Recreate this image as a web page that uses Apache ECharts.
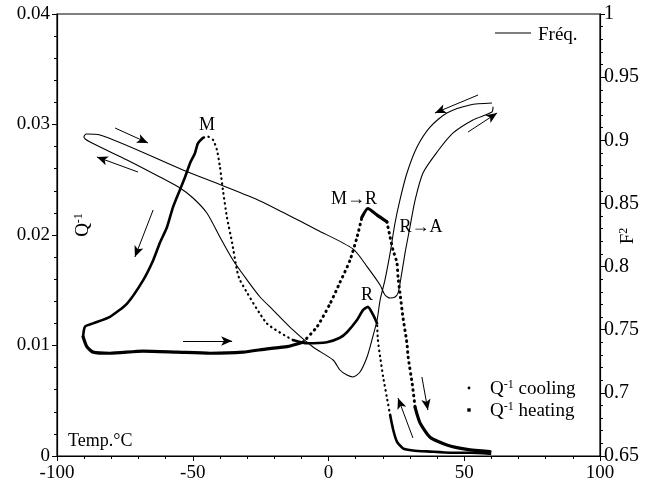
<!DOCTYPE html>
<html><head><meta charset="utf-8">
<script src="https://cdn.jsdelivr.net/npm/echarts@6/dist/echarts.min.js"></script>
<style>html,body{margin:0;padding:0;background:#fff}#c{width:656px;height:491px}</style>
</head><body><div id="c"></div>
<script>
// ---------- DATA ----------
const coolT = [59.5, 52.1, 44.8, 37.4, 31.1, 27.4, 25.2, 23.8, 22.7, 21.5, 20.1, 19.0, 18.2, 17.9, 16.4, 14.5, 12.7, 10.5, 6.8, 4.2, -0.6, -7.9, -13.1, -22.7, -32.6, -33.7, -35.5, -37.4, -38.9, -40.0, -41.1, -42.5, -44.4, -46.2, -48.1, -49.2, -51.0, -52.9, -54.7, -57.3, -59.5, -62.1, -64.6, -68.3, -74.2, -80.5, -86.7, -89.7, -90.4];
const coolQ = [0.0002, 0.0003, 0.0003, 0.0004, 0.0005, 0.0007, 0.0013, 0.0024, 0.0037, 0.0053, 0.0072, 0.0090, 0.0105, 0.0120, 0.0128, 0.0135, 0.0132, 0.0123, 0.0112, 0.0107, 0.0103, 0.0102, 0.0105, 0.0120, 0.0159, 0.0168, 0.0193, 0.0216, 0.0241, 0.0262, 0.0277, 0.0286, 0.0289, 0.0288, 0.0283, 0.0274, 0.0265, 0.0252, 0.0241, 0.0225, 0.0207, 0.0193, 0.0177, 0.0159, 0.0138, 0.0126, 0.0120, 0.0117, 0.0108];

const heatT = [-90.4, -89.0, -86.7, -80.5, -68.3, -55.8, -43.6, -31.5, -22.7, -15.3, -9.4, -4.2, 0.6, 4.2, 7.9, 10.5, 12.3, 14.5, 17.9, 21.5, 22.7, 23.8, 25.2, 25.6, 26.3, 27.4, 28.9, 29.3, 30.8, 31.9, 33.7, 37.4, 43.6, 51.0, 59.5];
const heatQ = [0.0108, 0.0099, 0.0094, 0.0093, 0.0095, 0.0094, 0.0093, 0.0094, 0.0097, 0.0099, 0.0103, 0.0117, 0.0138, 0.0157, 0.0177, 0.0198, 0.0216, 0.0224, 0.0218, 0.0212, 0.0198, 0.0186, 0.0175, 0.0162, 0.0148, 0.0126, 0.0102, 0.0090, 0.0066, 0.0044, 0.0030, 0.0017, 0.0010, 0.0006, 0.0004];

const freqT = [60.2, 52.1, 43.6, 37.4, 32.6, 28.9, 26.3, 24.5, 22.7, 20.8, 19.0, 17.9, 16.0, 14.2, 11.6, 9.0, 6.8, 4.2, 1.7, -5.7, -13.1, -20.4, -25.2, -30.0, -35.2, -40.0, -44.8, -49.9, -54.7, -62.1, -74.2, -87.8, -90.1, -89.3, -84.2, -53.6, -38.9, -25.2, -16.8, -10.5, -4.2, 9.0, 14.2, 19.0, 20.8, 22.7, 24.5, 25.6, 26.3, 28.2, 30.0, 31.9, 34.8, 40.0, 45.9, 53.2, 60.2, 60.6];
const freqF = [0.9295, 0.9280, 0.9216, 0.9105, 0.8947, 0.8741, 0.8527, 0.8345, 0.8108, 0.7894, 0.7735, 0.7577, 0.7419, 0.7284, 0.7165, 0.7126, 0.7141, 0.7181, 0.7260, 0.7363, 0.7498, 0.7656, 0.7759, 0.7894, 0.8052, 0.8234, 0.8424, 0.8543, 0.8622, 0.8709, 0.8844, 0.8986, 0.9026, 0.9050, 0.9042, 0.8765, 0.8640, 0.8520, 0.8430, 0.8360, 0.8290, 0.8140, 0.8000, 0.7854, 0.7775, 0.7751, 0.7759, 0.7790, 0.7860, 0.8108, 0.8313, 0.8527, 0.8741, 0.8907, 0.9058, 0.9161, 0.9224, 0.9265];

const xTicks = [-100, -50, 0, 50, 100];
const qTicks = [0, 0.01, 0.02, 0.03, 0.04];
const fTicks = [0.65, 0.7, 0.75, 0.8, 0.85, 0.9, 0.95, 1];

// arrows: [T1, Q1, T2, Q2] (head at second point)
const arrows = [
  [-78.6, 0.02968, -66.5, 0.02833],
  [-70.2, 0.0257, -85.3, 0.02706],
  [-64.6, 0.02226, -71.3, 0.01801],
  [-53.6, 0.01041, -35.5, 0.01041],
  [55.1, 0.03267, 39.2, 0.03104],
  [51.4, 0.02932, 62.1, 0.03104],
  [31.1, 0.00163, 25.6, 0.00525],
  [34.4, 0.00715, 36.6, 0.00416]
];

// ---------- STYLE CONFIG ----------
const FONT = '"Liberation Serif", "Times New Roman", serif';
const coolSegs = [[0, 8, 'solid'], [8, 13, 'dot'], [13, 22, 'solid'], [22, 33, 'dot'], [33, 48, 'solid']];
const heatSegs = [[0, 10, 'solid'], [10, 16, 'dot'], [16, 19, 'solid'], [19, 29, 'dot'], [29, 34, 'solid']];

function pairs(a, b) { return a.map((v, i) => [v, b[i]]); }
const coolData = pairs(coolT, coolQ);
const heatData = pairs(heatT, heatQ);
const freqData = pairs(freqT, freqF);

function segSeries(name, data, segs, solidW, dotW, dotDash) {
  return segs.map(([s, e, kind]) => ({
    name: name,
    type: 'line',
    xAxisIndex: 0, yAxisIndex: 0,
    data: data.slice(s, e + 1),
    showSymbol: false, symbol: 'none',
    smooth: 0.2,
    silent: true,
    lineStyle: kind === 'solid'
      ? { color: '#000', width: solidW, cap: 'round', join: 'round' }
      : { color: '#000', width: dotW, type: dotDash, cap: 'round' },
    z: 3
  }));
}

const series = [];
series.push({
  name: 'Fréq.', type: 'line', xAxisIndex: 0, yAxisIndex: 1,
  data: freqData, showSymbol: false, symbol: 'none', smooth: 0.25, silent: true,
  lineStyle: { color: '#000', width: 1.1 }, z: 2
});
series.push(...segSeries('Q-1 cooling', coolData, coolSegs, 2.6, 2.2, [0.5, 4.5]));
series.push(...segSeries('Q-1 heating', heatData, heatSegs, 3.2, 3.0, [0.5, 5]));
series.push({
  name: 'arrows', type: 'line', xAxisIndex: 0, yAxisIndex: 0, data: [], silent: true,
  markLine: {
    silent: true, animation: false,
    symbol: ['none', 'arrow'], symbolSize: [7, 11],
    label: { show: false },
    lineStyle: { color: '#000', width: 1, type: 'solid' },
    data: arrows.map(a => [{ coord: [a[0], a[1]] }, { coord: [a[2], a[3]] }])
  }
});

const axisCommon = {
  axisLine: { show: true, onZero: false, lineStyle: { color: '#000', width: 1.2 } },
  axisTick: { show: true, inside: false, length: 5, lineStyle: { color: '#000', width: 1 } },
  minorTick: { show: true, splitNumber: 5, length: 3, lineStyle: { color: '#000', width: 1 } },
  splitLine: { show: false },
  minorSplitLine: { show: false },
  axisLabel: { color: '#000', fontFamily: FONT, fontSize: 19 }
};

const chart = echarts.init(document.getElementById('c'), null, { renderer: 'canvas' });
const sup = { fontFamily: FONT, fontSize: 12, verticalAlign: 'top', fill: '#000' };
const base = { fontFamily: FONT, fontSize: 19, lineHeight: 21, fill: '#000' };

chart.setOption({
  animation: false,
  backgroundColor: '#fff',
  grid: { left: 57, right: 56, top: 14, bottom: 35, show: true, borderColor: '#000', borderWidth: 1.2, backgroundColor: 'transparent' },
  xAxis: Object.assign({}, axisCommon, {
    type: 'value', min: xTicks[0], max: xTicks[xTicks.length - 1], interval: 50,
    axisLabel: Object.assign({}, axisCommon.axisLabel, { margin: 8 })
  }),
  yAxis: [
    Object.assign({}, axisCommon, {
      type: 'value', position: 'left', min: qTicks[0], max: qTicks[qTicks.length - 1], interval: 0.01,
      axisLabel: Object.assign({}, axisCommon.axisLabel, { margin: 7 })
    }),
    Object.assign({}, axisCommon, {
      type: 'value', position: 'right', min: fTicks[0], max: fTicks[fTicks.length - 1], interval: 0.05,
      axisLabel: Object.assign({}, axisCommon.axisLabel, { margin: 4, fontSize: 20 })
    })
  ],
  series: series,
  graphic: [
    // legend Fréq.
    { type: 'line', shape: { x1: 495, y1: 33, x2: 531, y2: 33 }, style: { stroke: '#000', lineWidth: 1.1 } },
    { type: 'text', x: 538, y: 35, style: { text: 'Fréq.', font: '19px ' + FONT, fill: '#000', verticalAlign: 'middle', align: 'left' } },
    // legend Q-1 cooling / heating
    { type: 'circle', shape: { cx: 469, cy: 388, r: 1.4 }, style: { fill: '#000' } },
    { type: 'rect', shape: { x: 467.3, y: 408.3, width: 3.4, height: 3.4 }, style: { fill: '#000' } },
    { type: 'text', x: 490, y: 389, style: { text: '{a|Q}{b|-1}{a| cooling}', rich: { a: base, b: sup }, verticalAlign: 'middle', align: 'left' } },
    { type: 'text', x: 490, y: 411, style: { text: '{a|Q}{b|-1}{a| heating}', rich: { a: base, b: sup }, verticalAlign: 'middle', align: 'left' } },
    // axis titles
    { type: 'text', x: 83, y: 225, rotation: Math.PI / 2, style: { text: '{a|Q}{b|-1}', rich: { a: base, b: sup }, verticalAlign: 'middle', align: 'center' } },
    { type: 'text', x: 628, y: 236, rotation: Math.PI / 2, style: { text: '{a|F}{b|2}', rich: { a: base, b: sup }, verticalAlign: 'middle', align: 'center' } },
    { type: 'text', x: 68, y: 441, style: { text: 'Temp.°C', font: '18px ' + FONT, fill: '#000', verticalAlign: 'middle', align: 'left' } },
    // annotations
    { type: 'text', x: 207, y: 125, style: { text: 'M', font: '18px ' + FONT, fill: '#000', verticalAlign: 'middle', align: 'center' } },
    { type: 'text', x: 354, y: 199, style: { text: 'M→R', font: '18px ' + FONT, fill: '#000', verticalAlign: 'middle', align: 'center' } },
    { type: 'text', x: 421, y: 227, style: { text: 'R→A', font: '18px ' + FONT, fill: '#000', verticalAlign: 'middle', align: 'center' } },
    { type: 'text', x: 367, y: 295, style: { text: 'R', font: '18px ' + FONT, fill: '#000', verticalAlign: 'middle', align: 'center' } }
  ]
});
</script>
</body></html>
